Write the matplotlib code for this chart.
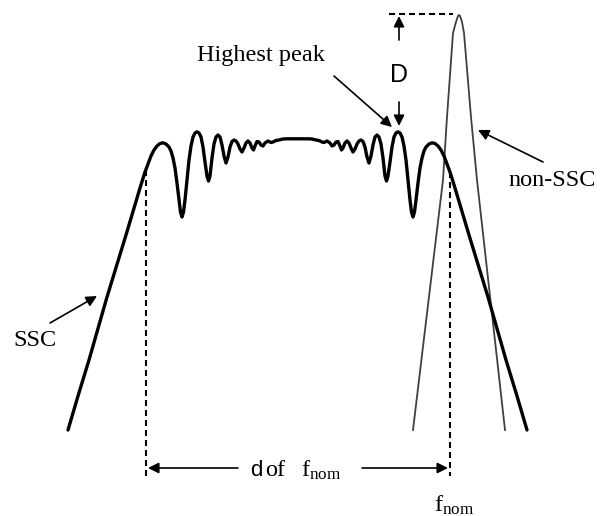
import matplotlib
matplotlib.use("Agg")
import matplotlib.pyplot as plt

plt.rcParams['mathtext.fontset'] = 'custom'
plt.rcParams['mathtext.rm'] = 'Liberation Serif'
plt.rcParams['mathtext.it'] = 'Liberation Serif:italic'

# SSC spectrum outline (diagram coordinates; y grows downward)
ssc_x = [68, 78, 89, 107, 126, 140, 145, 148, 151, 154, 157, 160, 163, 166, 169, 171, 173, 175, 177,
         179, 180.5, 182, 183.5, 185, 187, 189, 191, 193, 195, 197, 199, 201, 203, 205, 207, 208.5,
         210, 212, 214, 216, 218, 220, 222, 224, 226, 228, 230, 232, 234, 236, 238, 240, 242, 244,
         246, 248, 250, 252, 253.5, 255, 257, 259, 261, 263, 265, 268, 271, 273, 276, 279, 283, 287,
         308, 312, 316, 319, 322, 324, 327, 330, 332, 334, 336, 338, 340, 341.5, 343, 345, 347, 349,
         351, 353, 355, 357, 359, 361, 363, 365, 367, 369, 371, 373, 375, 377, 379, 381, 383, 385,
         386.5, 388, 390, 392, 394, 396, 398, 400, 402, 404, 406, 408, 410, 411.5, 413, 414.5, 416,
         418, 420, 422, 424, 426, 429, 432, 435, 438, 441, 444, 447, 450, 455, 469, 488, 506, 517, 527]
ssc_y = [430, 396, 360, 297, 235, 188, 172, 164, 156, 150, 146, 143.5, 142.8, 144, 147, 151, 158, 168, 183,
         200, 212, 217, 212, 200, 180, 160, 146, 137, 133, 131.8, 133, 137, 147, 162, 176, 181,
         176, 158, 144, 137, 135, 137, 145, 156, 163, 157, 147, 141.5, 140, 141, 144, 149, 152, 148,
         143, 141, 143, 148, 150, 146, 141.5, 142, 145, 146, 143, 141, 142.5, 142, 140.5, 140, 139, 138.8,
         138.8, 139, 140, 140.5, 142, 142.5, 141, 143, 146, 145, 142, 141.5, 146, 150, 148, 143, 141, 143,
         148, 152, 149, 144, 141, 140, 141.5, 147, 157, 163, 156, 145, 137, 135, 137, 144, 158, 176,
         181, 176, 162, 147, 137, 133, 131.8, 133, 137, 146, 160, 180, 200, 212, 217, 212, 200,
         183, 168, 158, 151, 147, 144, 142.8, 143.5, 146, 150, 156, 164, 172, 188, 235, 297, 360, 396, 430]

# non-SSC spectrum outline
non_x = [413, 443, 447, 453, 456, 458, 459, 460, 462, 464, 471, 477, 505]
non_y = [430, 180, 117, 33, 22, 16, 15, 16, 22, 33, 117, 180, 430]

# reference positions
f_lo_x = 146
f_nom_x = 450
peak_top_y = 14

fig = plt.figure(figsize=(6.1, 5.16), dpi=100)
ax = fig.add_axes([0, 0, 1, 1])
ax.set_xlim(0, 610)
ax.set_ylim(516, 0)
ax.axis('off')

serif = 'Liberation Serif'
sans = 'Liberation Sans'
fs = 17.5

ax.plot(non_x, non_y, color='#404040', lw=1.3, solid_joinstyle='round')
ax.plot(ssc_x, ssc_y, color='black', lw=2.4, solid_joinstyle='round', solid_capstyle='round')

dash = (0, (2.9, 1.9))
ax.plot([f_lo_x, f_lo_x], [170, 476], color='black', lw=1.5, linestyle=dash)
ax.plot([f_nom_x, f_nom_x], [172, 476], color='black', lw=1.5, linestyle=dash)
ax.plot([389, 453], [peak_top_y, peak_top_y], color='black', lw=1.5, linestyle=dash)

ap = dict(arrowstyle='-|>', color='black', lw=1.2, mutation_scale=16, shrinkA=0, shrinkB=0)

# D arrows
ax.annotate('', xy=(399, 16), xytext=(399, 40), arrowprops=ap)
ax.annotate('', xy=(399, 126), xytext=(399, 102), arrowprops=ap)
ax.text(399, 75, 'D', fontsize=18, family=sans, ha='center', va='center')

# Highest peak
ax.text(261, 55, 'Highest peak', fontsize=fs, family=serif, ha='center', va='center')
ax.annotate('', xy=(392, 127), xytext=(334, 76), arrowprops=ap)

# non-SSC
ax.text(552, 180, 'non-SSC', fontsize=fs, family=serif, ha='center', va='center')
ax.annotate('', xy=(478, 130), xytext=(543, 162), arrowprops=ap)

# SSC
ax.text(35, 340, 'SSC', fontsize=fs, family=serif, ha='center', va='center')
ax.annotate('', xy=(97, 296), xytext=(50, 323), arrowprops=ap)

# d of f_nom
ax.annotate('', xy=(148, 468), xytext=(238, 468), arrowprops=ap)
ax.annotate('', xy=(448, 468), xytext=(362, 468), arrowprops=ap)
ax.text(250, 470, 'd', fontsize=16, family=sans, ha='left', va='center')
ax.text(265, 470, 'of', fontsize=fs, family=serif, ha='left', va='center')
ax.text(301, 470, r'$\mathrm{f}_{\mathrm{nom}}$', fontsize=fs, ha='left', va='center')

# f_nom label
ax.text(434, 505, r'$\mathrm{f}_{\mathrm{nom}}$', fontsize=fs, ha='left', va='center')

fig.savefig('out.png', dpi=100)
